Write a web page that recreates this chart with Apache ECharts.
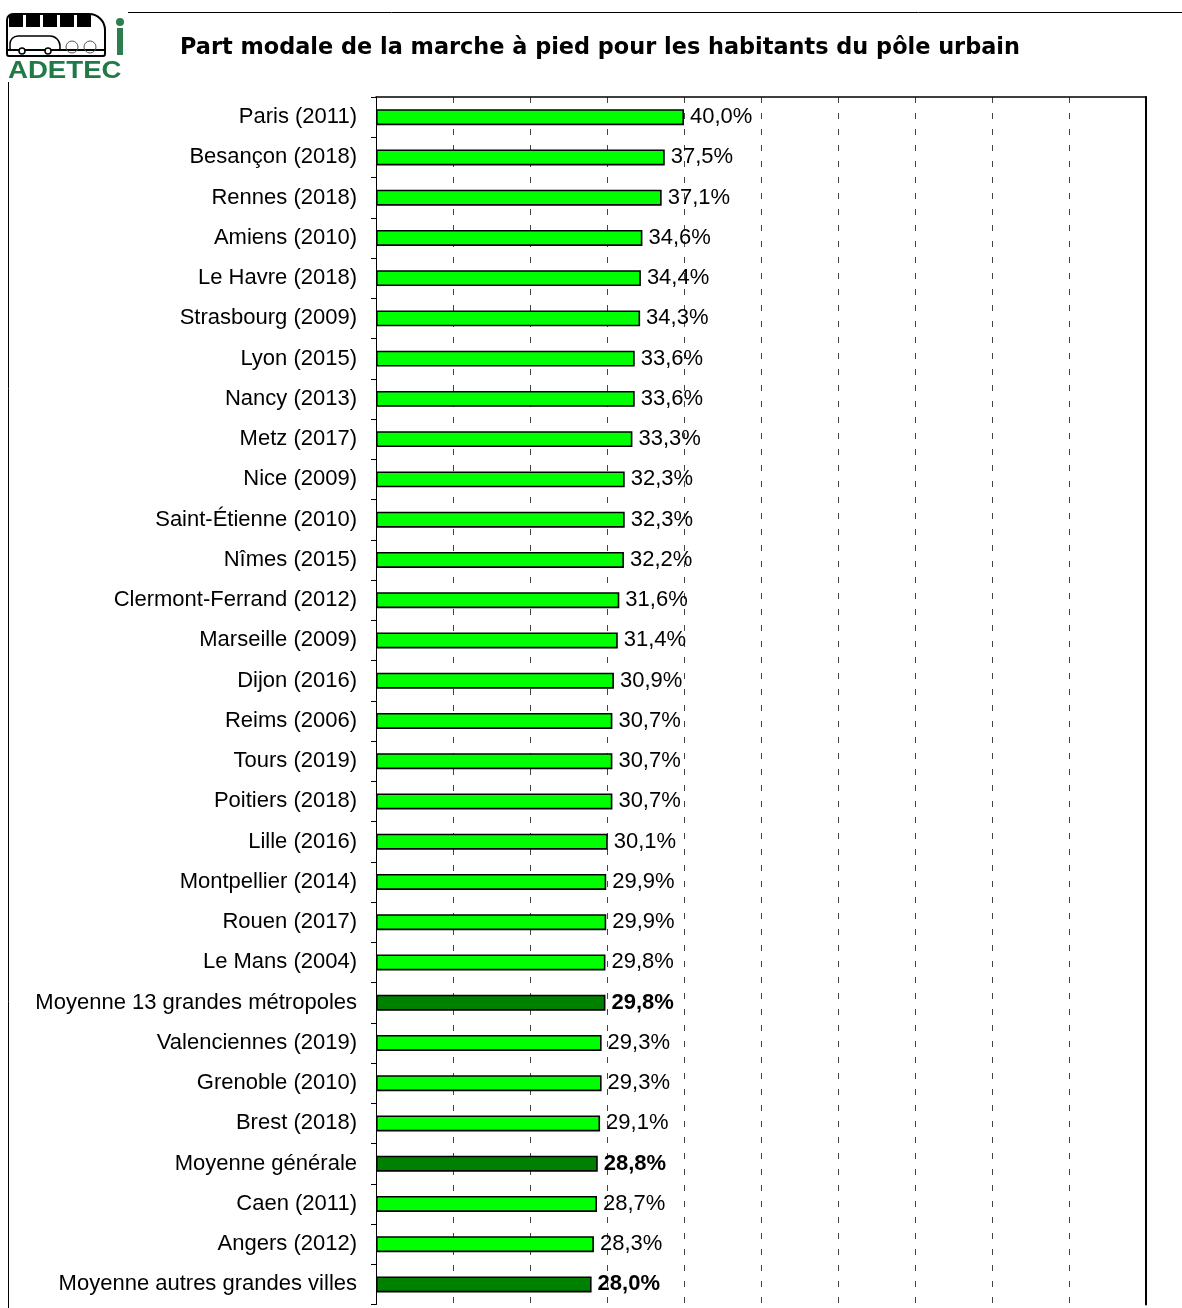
<!DOCTYPE html>
<html>
<head>
<meta charset="utf-8">
<script src="https://cdn.jsdelivr.net/npm/echarts@6/dist/echarts.min.js"></script>
<style>
  html, body { margin: 0; padding: 0; background: #fff; }
  #chart { width: 1182px; height: 1308px; }
</style>
</head>
<body>
<div id="chart"></div>
<script>
const categories = [
  'Paris (2011)', 'Besançon (2018)', 'Rennes (2018)', 'Amiens (2010)', 'Le Havre (2018)',
  'Strasbourg (2009)', 'Lyon (2015)', 'Nancy (2013)', 'Metz (2017)', 'Nice (2009)',
  'Saint-Étienne (2010)', 'Nîmes (2015)', 'Clermont-Ferrand (2012)', 'Marseille (2009)', 'Dijon (2016)',
  'Reims (2006)', 'Tours (2019)', 'Poitiers (2018)', 'Lille (2016)', 'Montpellier (2014)',
  'Rouen (2017)', 'Le Mans (2004)', 'Moyenne 13 grandes métropoles', 'Valenciennes (2019)', 'Grenoble (2010)',
  'Brest (2018)', 'Moyenne générale', 'Caen (2011)', 'Angers (2012)', 'Moyenne autres grandes villes'
]
const shares = [
  40.0, 37.5, 37.1, 34.6, 34.4,
  34.3, 33.6, 33.6, 33.3, 32.3,
  32.3, 32.2, 31.6, 31.4, 30.9,
  30.7, 30.7, 30.7, 30.1, 29.9,
  29.9, 29.8, 29.8, 29.3, 29.3,
  29.1, 28.8, 28.7, 28.3, 28.0
]
// rows drawn in dark green with bold labels
const averages = ['Moyenne 13 grandes métropoles', 'Moyenne générale', 'Moyenne autres grandes villes']

const font = '"Liberation Sans", Arial, sans-serif'

const chart = echarts.init(document.getElementById('chart'))

const barData = shares.map((v, i) => {
  const isAvg = averages.includes(categories[i])
  return {
    value: v,
    itemStyle: { color: isAvg ? '#008000' : '#00ff00' },
    label: { fontWeight: isAvg ? 'bold' : 'normal' }
  }
})

chart.setOption({
  animation: false,
  title: {
    text: 'Part modale de la marche à pied pour les habitants du pôle urbain',
    left: 180,
    top: 37,
    padding: 0,
    textStyle: { fontFamily: '"DejaVu Sans", sans-serif', fontSize: 22.4, fontWeight: 'bold', color: '#000' }
  },
  grid: { left: 376, right: 36, top: 97, bottom: 3.5 },
  xAxis: {
    type: 'value',
    position: 'top',
    min: 0,
    max: 100,
    interval: 10,
    axisLine: { show: true, lineStyle: { color: '#000', width: 1.5 } },
    axisTick: { show: false },
    axisLabel: { show: false },
    splitLine: { show: true, lineStyle: { color: '#444', width: 1, type: [6, 10] } }
  },
  yAxis: [
    {
      type: 'category',
      inverse: true,
      data: categories,
      axisLine: { show: true, lineStyle: { color: '#000', width: 1 } },
      axisTick: { show: true, length: 5, lineStyle: { color: '#000' } },
      axisLabel: { fontFamily: font, fontSize: 22, color: '#000', margin: 19 }
    },
    {
      type: 'category',
      inverse: true,
      position: 'right',
      data: categories,
      axisLine: { show: true, lineStyle: { color: '#000', width: 2 } },
      axisTick: { show: false },
      axisLabel: { show: false }
    }
  ],
  series: [
    {
      type: 'bar',
      yAxisIndex: 0,
      barWidth: 16,
      data: barData,
      itemStyle: { borderColor: '#000', borderWidth: 1.6 },
      label: {
        show: true,
        position: 'right',
        distance: 6,
        fontFamily: font,
        fontSize: 22,
        color: '#000',
        formatter: p => p.value.toFixed(1).replace('.', ',') + '%'
      }
    }
  ],
  graphic: [
    // header rule and left frame
    { type: 'line', shape: { x1: 128, y1: 12.5, x2: 1182, y2: 12.5 }, style: { stroke: '#000', lineWidth: 1 } },
    { type: 'line', shape: { x1: 8.5, y1: 82, x2: 8.5, y2: 1308 }, style: { stroke: '#000', lineWidth: 1 } },
    // simple logo: bus, car, bike, walker
    { type: 'rect', shape: { x: 7, y: 14, width: 98, height: 42, r: [6, 16, 2, 2] }, style: { fill: 'none', stroke: '#000', lineWidth: 2 } },
    { type: 'rect', shape: { x: 9, y: 15, width: 14, height: 12 }, style: { fill: '#000' } },
    { type: 'rect', shape: { x: 26, y: 15, width: 14, height: 12 }, style: { fill: '#000' } },
    { type: 'rect', shape: { x: 43, y: 15, width: 14, height: 12 }, style: { fill: '#000' } },
    { type: 'rect', shape: { x: 60, y: 15, width: 14, height: 12 }, style: { fill: '#000' } },
    { type: 'rect', shape: { x: 77, y: 15, width: 14, height: 12 }, style: { fill: '#000' } },
    { type: 'rect', shape: { x: 10, y: 36, width: 50, height: 14, r: [8, 10, 2, 2] }, style: { fill: '#fff', stroke: '#000', lineWidth: 1.5 } },
    { type: 'line', shape: { x1: 7, y1: 50, x2: 105, y2: 50 }, style: { stroke: '#000', lineWidth: 2 } },
    { type: 'circle', shape: { cx: 22, cy: 51, r: 3 }, style: { fill: '#fff', stroke: '#000', lineWidth: 1.5 } },
    { type: 'circle', shape: { cx: 48, cy: 51, r: 3 }, style: { fill: '#fff', stroke: '#000', lineWidth: 1.5 } },
    { type: 'circle', shape: { cx: 72, cy: 47, r: 6 }, style: { fill: 'none', stroke: '#555', lineWidth: 1 } },
    { type: 'circle', shape: { cx: 90, cy: 47, r: 6 }, style: { fill: 'none', stroke: '#555', lineWidth: 1 } },
    { type: 'rect', shape: { x: 117, y: 28, width: 6, height: 27 }, style: { fill: '#2e7d4f' } },
    { type: 'circle', shape: { cx: 120, cy: 22, r: 4 }, style: { fill: '#2e7d4f' } },
    {
      type: 'text',
      x: 8,
      y: 60,
      scaleX: 1.2,
      style: { text: 'ADETEC', fontFamily: font, fontSize: 23, fontWeight: 'bold', fill: '#1f7a46' }
    }
  ]
})
</script>
</body>
</html>
